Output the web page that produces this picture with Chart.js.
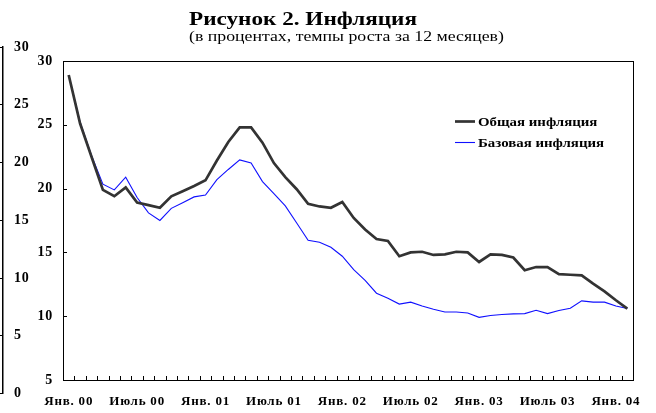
<!DOCTYPE html>
<html lang="ru">
<head>
    <meta charset="UTF-8">
    <title>Рисунок 2. Инфляция</title>
    <script src="https://cdn.jsdelivr.net/npm/chart.js@4.4.0/dist/chart.umd.min.js"></script>
    <style>
      body { margin: 0; background: #fff; }
      #wrap { position: relative; width: 656px; height: 413px; }
      #chart { position: absolute; left: 0; top: 0; }
      #outer { position: absolute; left: 0; top: 0; }
    </style>
</head>
<body>
  <div id="wrap">
    <canvas id="chart" width="656" height="413"></canvas>
    <canvas id="outer" width="40" height="413"></canvas>
  </div>

  <script>
    /* Months, Jan 2000 - Feb 2004. */
    const months = [
      "Янв. 00", "Фев. 00", "Март 00", "Апр. 00", "Май 00", "Июнь 00", "Июль 00", "Авг. 00", "Сент. 00", "Окт. 00", "Нояб. 00", "Дек. 00",
      "Янв. 01", "Фев. 01", "Март 01", "Апр. 01", "Май 01", "Июнь 01", "Июль 01", "Авг. 01", "Сент. 01", "Окт. 01", "Нояб. 01", "Дек. 01",
      "Янв. 02", "Фев. 02", "Март 02", "Апр. 02", "Май 02", "Июнь 02", "Июль 02", "Авг. 02", "Сент. 02", "Окт. 02", "Нояб. 02", "Дек. 02",
      "Янв. 03", "Фев. 03", "Март 03", "Апр. 03", "Май 03", "Июнь 03", "Июль 03", "Авг. 03", "Сент. 03", "Окт. 03", "Нояб. 03", "Дек. 03",
      "Янв. 04", "Фев. 04"
    ]

    /* Headline inflation, % y/y. */
    const totalInflation = [
      28.9, 25.1, 22.5, 19.9, 19.4, 20.1, 18.9, 18.7, 18.5, 19.4, 19.8, 20.2,
      20.65, 22.2, 23.65, 24.8, 24.8, 23.6, 22.0, 20.9, 19.95, 18.8, 18.6, 18.5,
      18.95, 17.7, 16.8, 16.05, 15.9, 14.7, 15.0, 15.05, 14.8, 14.85, 15.05, 15.0,
      14.25, 14.85, 14.8, 14.6, 13.6, 13.85, 13.85, 13.3, 13.25, 13.2, 12.55, 11.95,
      11.25, 10.6
    ]

    /* Core inflation, % y/y. */
    const coreInflation = [
      28.9, 25.2, 22.6, 20.35, 19.9, 20.9, 19.3, 18.1, 17.5, 18.45, 18.9, 19.35,
      19.5, 20.7, 21.5, 22.25, 22.0, 20.55, 19.6, 18.65, 17.3, 15.95, 15.8, 15.4,
      14.7, 13.65, 12.8, 11.8, 11.4, 10.95, 11.1, 10.8, 10.55, 10.33, 10.33, 10.25,
      9.91, 10.05, 10.13, 10.18, 10.2, 10.46, 10.2, 10.44, 10.62, 11.2, 11.1, 11.1,
      10.8, 10.6
    ]

    const seriesNames = ["Общая инфляция", "Базовая инфляция"]
    const yTicks = [30, 25, 20, 15, 10, 5]
    const outerTicks = [30, 25, 20, 15, 10, 5, 0]

    const serif = "'Liberation Serif', 'DejaVu Serif', serif"
    Chart.defaults.font.family = serif
    Chart.defaults.color = "#000"

    /* The original lettering is wider than Times, so spread it a bit. */
    const spacing = {
      id: "spacing",
      beforeDraw(chart) { chart.ctx.letterSpacing = "0.8px" }
    }

    /* Draw text stretched horizontally by sx. */
    function wideText(ctx, text, x, y, sx) {
      ctx.save()
      ctx.translate(x, y)
      ctx.scale(sx, 1)
      ctx.fillText(text, 0, 0)
      ctx.restore()
    }

    /* Frame, inner tick marks, title and legend. */
    const deco = {
      id: "deco",
      afterDraw(chart) {
        const { ctx, chartArea: a, scales: { x, y } } = chart
        ctx.save()
        ctx.letterSpacing = "0px"
        ctx.strokeStyle = "#000"
        ctx.lineWidth = 1
        ctx.strokeRect(Math.round(a.left) + 0.5, Math.round(a.top) + 0.5,
                       Math.round(a.width), Math.round(a.height))

        ctx.beginPath()
        const step = x.getPixelForValue(1) - x.getPixelForValue(0)
        for (let i = 0; i < months.length - 1; i++) {
          const px = Math.round(x.getPixelForValue(i) + step / 2) + 0.5
          ctx.moveTo(px, a.bottom)
          ctx.lineTo(px, a.bottom - 4)
        }
        yTicks.forEach(v => {
          const py = Math.round(y.getPixelForValue(v)) + 0.5
          ctx.moveTo(a.left, py)
          ctx.lineTo(a.left + 4, py)
        })
        ctx.stroke()

        // title
        ctx.fillStyle = "#000"
        ctx.textAlign = "left"
        ctx.textBaseline = "alphabetic"
        ctx.font = "bold 19px " + serif
        wideText(ctx, "Рисунок 2. Инфляция", 189, 25, 1.22)
        ctx.font = "14px " + serif
        wideText(ctx, "(в процентах, темпы роста за 12 месяцев)", 189, 41, 1.27)

        // legend
        const ds = chart.data.datasets
        const rows = [121, 142]
        ctx.font = "bold 12.5px " + serif
        ctx.textBaseline = "middle"
        ds.forEach((d, i) => {
          ctx.strokeStyle = d.borderColor
          ctx.lineWidth = d.borderWidth
          ctx.beginPath()
          ctx.moveTo(455, rows[i] + 0.5)
          ctx.lineTo(475, rows[i] + 0.5)
          ctx.stroke()
          wideText(ctx, d.label, 478, rows[i] + 1.5, 1.19)
        })
        ctx.restore()
      }
    }

    const ctx = document.getElementById("chart").getContext("2d")
    const myChart = new Chart(ctx, {
      type: "line",
      data: {
        labels: months,
        datasets: [{
          label: seriesNames[0],
          data: totalInflation,
          borderColor: "#333333",
          borderWidth: 2.7,
          pointRadius: 0,
          tension: 0,
          fill: false
        }, {
          label: seriesNames[1],
          data: coreInflation,
          borderColor: "#1010ff",
          borderWidth: 1.1,
          pointRadius: 0,
          tension: 0,
          fill: false
        }]
      },
      options: {
        responsive: false,
        devicePixelRatio: 1,
        animation: false,
        layout: { padding: { left: 0, top: 61, right: 23, bottom: 0 } },
        plugins: { legend: { display: false }, tooltip: { enabled: false } },
        scales: {
          x: {
            type: "category",
            offset: true,
            grid: { display: false, drawTicks: false },
            border: { display: false },
            afterFit: s => { s.height = 33 },
            ticks: {
              autoSkip: false,
              maxRotation: 0,
              padding: 14,
              font: { size: 13, weight: "bold" },
              callback: function(value) {
                const m = this.getLabelForValue(value)
                return (m.startsWith("Янв.") || m.startsWith("Июль")) ? m : ""
              }
            }
          },
          y: {
            min: 5,
            max: 30,
            grid: { display: false, drawTicks: false },
            border: { display: false },
            afterFit: s => { s.width = 63 },
            afterBuildTicks: s => { s.ticks = yTicks.map(v => ({ value: v })) },
            ticks: { padding: 10, font: { size: 14, weight: "bold" } }
          }
        }
      },
      plugins: [spacing, deco]
    })

    /* Leftover outer axis at the left edge. */
    const octx = document.getElementById("outer").getContext("2d")
    const outerChart = new Chart(octx, {
      type: "line",
      data: { labels: [], datasets: [] },
      options: {
        responsive: false,
        devicePixelRatio: 1,
        animation: false,
        layout: { padding: { left: 0, top: 47, right: 0, bottom: 17 } },
        plugins: { legend: { display: false }, tooltip: { enabled: false } },
        scales: {
          x: { display: false },
          y: {
            position: "right",
            min: 0,
            max: 30,
            afterFit: s => { s.width = 37 },
            afterBuildTicks: s => { s.ticks = outerTicks.map(v => ({ value: v })) },
            grid: { color: "#000", lineWidth: 1, drawTicks: false },
            border: { color: "#000", width: 1.5 },
            ticks: { padding: 11, font: { size: 14, weight: "bold" } }
          }
        }
      },
      plugins: [spacing]
    })
  </script>
</body>
</html>
